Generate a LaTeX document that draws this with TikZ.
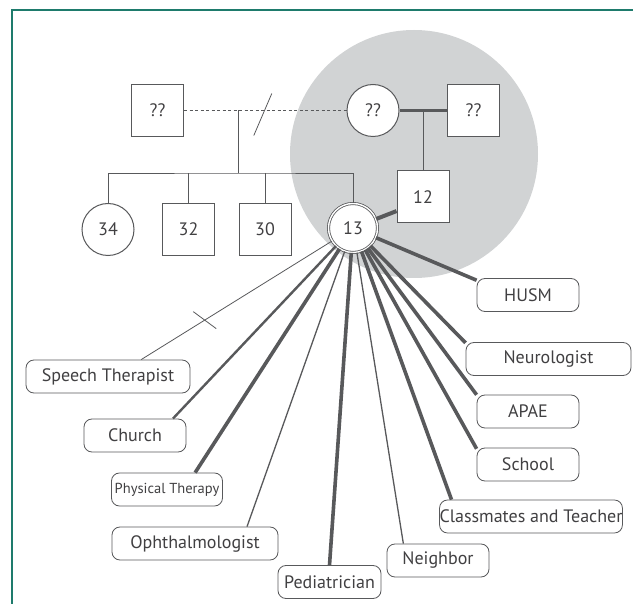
\documentclass[tikz,border=0pt]{standalone}
\usepackage{fontspec}
\setmainfont{PT Sans}
\usetikzlibrary{calc}
\definecolor{framecol}{HTML}{1E7B6C}
\definecolor{shadegray}{HTML}{D1D3D4}
\definecolor{ln}{HTML}{58595B}
\definecolor{txt}{HTML}{414042}
\begin{document}
\begin{tikzpicture}[x=1pt,y=-1pt,
  sq/.style={draw=ln,line width=1pt,fill=white,minimum size=52pt,inner sep=0pt,text=txt,font=\fontsize{18}{20}\selectfont},
  ci/.style={circle,draw=ln,line width=1pt,fill=white,minimum size=52pt,inner sep=0pt,text=txt,font=\fontsize{18}{20}\selectfont},
  lab/.style={draw=ln,line width=0.8pt,rounded corners=8pt,fill=white,minimum height=33pt,inner sep=0pt,text=txt,font=\fontsize{18}{20}\selectfont},
  thk/.style={draw=ln,line width=3.6pt},
  med/.style={draw=ln,line width=2.4pt},
  thn/.style={draw=ln,line width=1.3pt},
  fine/.style={draw=ln,line width=0.8pt}]
\useasboundingbox (0,0) rectangle (633,604);
\fill[white] (0,0) rectangle (633,604);
\draw[framecol,line width=1.6pt] (12,604) -- (12,10) -- (633,10);
\fill[shadegray] (414,154) circle[radius=124];
% genogram nodes
\node[sq] (lq) at (157.5,110.5) {??};
\node[ci] (cq) at (373,110.5) {??};
\node[sq] (rq) at (473.5,110.5) {??};
\node[ci] (c34) at (108,229.5) {34};
\node[sq] (s32) at (188.5,229.5) {32};
\node[sq] (s30) at (265,229.5) {30};
\node[ci,double=white,double distance=1.4pt,line width=0.8pt,minimum size=49pt] (c13) at (353,228) {13};
\node[sq] (s12) at (423,197) {12};
% network nodes
\node[lab,minimum width=102pt] (husm) at (528,295) {HUSM};
\node[lab,minimum width=165pt] (neuro) at (548.5,359) {Neurologist};
\node[lab,minimum width=102pt] (apae) at (528,411.5) {APAE};
\node[lab,minimum width=102pt] (school) at (528,464.5) {School};
\node[lab,minimum width=182pt] (class) at (531,516.5) {Classmates and Teacher};
\node[lab,minimum width=102pt] (neighbor) at (438,560.5) {Neighbor};
\node[lab,minimum width=103pt] (pedia) at (329.5,582) {Pediatrician};
\node[lab,minimum width=166pt] (oph) at (195,543.5) {Ophthalmologist};
\node[lab,minimum width=111pt,font=\fontsize{14.5}{16}\selectfont] (phys) at (167,489.5) {Physical Therapy};
\node[lab,minimum width=102pt] (church) at (135,435.5) {Church};
\node[lab,minimum width=164pt] (speech) at (108,376.5) {Speech Therapist};
% family lines
\draw[ln,line width=0.8pt,dash pattern=on 3pt off 2.5pt] (lq) -- (cq);
\coordinate (drop) at ($(lq.east)!0.337!(cq.west)$);
\coordinate (slash) at ($(lq.east)!0.485!(cq.west)$);
\draw[fine] ($(slash)+(-9,25)$) -- ($(slash)+(9,-17)$);
\coordinate (bar) at ($(drop)+(0,62.5)$);
\draw[fine] (drop) -- (bar);
\draw[fine] (c34.north) |- (bar) -| (c13.north);
\draw[fine] (s32.north) -- (s32.north |- bar);
\draw[fine] (s30.north) -- (s30.north |- bar);
\draw[ln,line width=3pt] (cq) -- (rq);
\draw[fine] (s12.north) -- (s12.north |- cq.east);
% network lines
\draw[ln,line width=4pt] (c13) -- (s12.208);
\draw[thk] (c13) -- (husm.164);
\draw[thk] (c13) -- (neuro.169);
\draw[thk] (c13) -- (apae.162);
\draw[thk] (c13) -- (school.163);
\draw[thk] (c13) -- (class.168);
\draw[thn] (c13) -- (neighbor.154);
\draw[thk] (c13) -- (pedia.north);
\draw[thn] (c13) -- (oph.18);
\draw[thk] (c13) -- (phys.31);
\draw[med] (c13) -- (church.24);
\draw[fine] (c13) -- (speech.27);
\coordinate (tick) at ($(speech.27)!0.3!(c13)$);
\draw[fine] ($(tick)+(-11.5,-8.5)$) -- ($(tick)+(11.5,8.5)$);
\end{tikzpicture}
\end{document}
